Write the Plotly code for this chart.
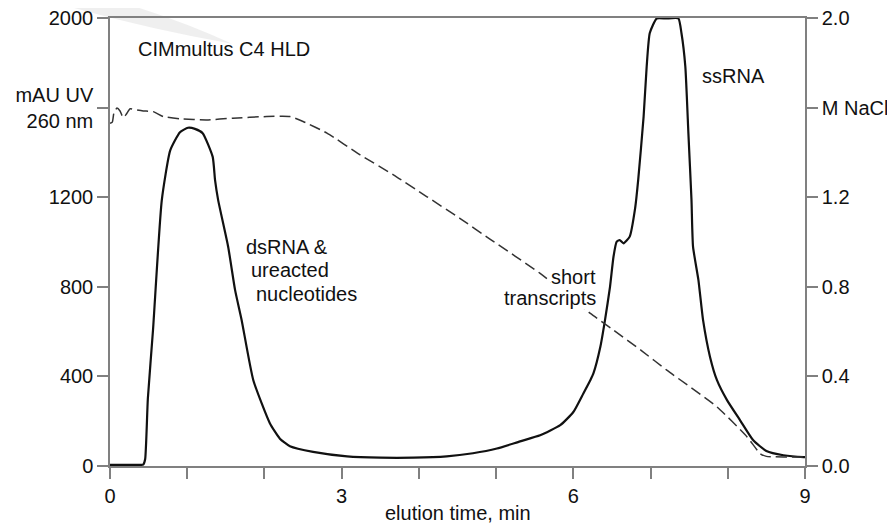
import plotly.graph_objects as go

# ---- data ----
uv_time = [0.0, 0.40, 0.43, 0.455, 0.49, 0.557, 0.67, 0.78, 0.906, 1.01, 1.10, 1.20, 1.33, 1.36, 1.40,
           1.53, 1.62, 1.705, 1.856, 2.07, 2.20, 2.33, 2.63, 3.07, 3.50, 3.93, 4.36, 4.70, 5.01,
           5.31, 5.57, 5.83, 6.00, 6.13, 6.22, 6.26, 6.35, 6.41, 6.475, 6.52, 6.56, 6.60, 6.65,
           6.73, 6.80, 6.84, 6.91, 6.95, 6.99, 7.08, 7.20, 7.36, 7.40, 7.45, 7.49, 7.53, 7.55,
           7.62, 7.68, 7.77, 7.86, 7.99, 8.16, 8.33, 8.50, 8.72, 8.98, 9.0]
uv_mau = [5, 5, 6, 30, 300, 607, 1185, 1409, 1490, 1510, 1505, 1486, 1380, 1277, 1188,
          979, 785, 651, 383, 191, 122, 88, 63, 43, 37, 37, 43, 57, 78,
          110, 137, 182, 241, 324, 383, 413, 532, 651, 800, 934, 1001, 1009, 994,
          1024, 1150, 1277, 1560, 1784, 1933, 1998, 1998, 1998, 1933, 1784, 1486, 1188, 979,
          830, 651, 487, 383, 294, 204, 115, 67, 48, 40, 40]

nacl_time = [0.0, 0.03, 0.05, 0.09, 0.13, 0.17, 0.21, 0.26, 0.33, 0.43, 0.56, 0.69, 0.91, 1.25,
             1.59, 2.03, 2.33, 2.50, 2.81, 3.24, 3.67, 4.10, 4.53, 4.92, 5.57, 6.22, 6.52,
             6.89, 7.21, 7.86, 8.25, 8.42, 8.50, 8.94, 9.0]
nacl_m = [1.53, 1.535, 1.575, 1.598, 1.585, 1.555, 1.57, 1.595, 1.59, 1.585, 1.582, 1.560, 1.550, 1.545,
          1.553, 1.560, 1.560, 1.538, 1.486, 1.389, 1.300, 1.203, 1.106, 1.013, 0.860, 0.681, 0.607,
          0.513, 0.428, 0.264, 0.130, 0.055, 0.043, 0.040, 0.040]

x_ticks = [0, 1, 2, 3, 4, 5, 6, 7, 8, 9]
x_ticktext = ["0", "", "", "3", "", "", "6", "", "", "9"]
y_ticks = [0, 400, 800, 1200, 1600, 2000]
y_ticktext = ["0", "400", "800", "1200", "mAU UV<br>260 nm", "2000"]
y2_ticks = [0.0, 0.4, 0.8, 1.2, 1.6, 2.0]
y2_ticktext = ["0.0", "0.4", "0.8", "1.2", "M NaCl", "2.0"]

FONT = "Liberation Sans, Arial, sans-serif"
FS = 20
AX = "#808080"
INK = "#111111"

fig = go.Figure()
fig.add_trace(go.Scatter(x=nacl_time, y=nacl_m, yaxis="y2", mode="lines",
                         line=dict(color="#333333", width=1.5, dash="11px,5px", shape="spline", smoothing=0.5),
                         showlegend=False, hoverinfo="skip"))
fig.add_trace(go.Scatter(x=uv_time, y=uv_mau, mode="lines",
                         line=dict(color=INK, width=2.2, shape="spline", smoothing=0.5),
                         showlegend=False, hoverinfo="skip"))

# page body has an 8px margin, so the figure sits at (8, 8) in the window
OFF = 8
W, H = 895 - OFF, 525 - OFF
# plot area in window pixels: x 110..805, y 18.3..465.7
L, R, T, B = 110, 805, 18.3, 465.7
def px(xp, yp):
    return (xp - L) / (R - L), (B - yp) / (B - T)

# faint grey swoosh (scan artefact at top-left)
pts = [(45, 0), (140, 28), (232, 44), (175, 18), (112, 0)]
p = [px(*q) for q in pts]
path = (f"M {p[0][0]},{p[0][1]} Q {p[1][0]},{p[1][1]} {p[2][0]},{p[2][1]} "
        f"Q {p[3][0]},{p[3][1]} {p[4][0]},{p[4][1]} Z")

common = dict(showline=True, linecolor=AX, linewidth=1.5, ticks="outside", ticklen=11,
              tickwidth=1.5, tickcolor=AX, showgrid=False, zeroline=False,
              automargin=False, ticklabeloverflow="allow",
              tickfont=dict(size=FS, color=INK), tickmode="array")

fig.update_layout(
    width=W, height=H,
    margin=dict(l=L - OFF, r=W - (R - OFF), t=T - OFF, b=H - (B - OFF), autoexpand=False),
    paper_bgcolor="white", plot_bgcolor="white",
    font=dict(family=FONT, size=FS, color=INK),
    shapes=[dict(type="path", xref="paper", yref="paper", path=path,
                 fillcolor="rgba(215,215,215,0.4)", line=dict(width=0), layer="below")],
    xaxis=dict(range=[0, 9], tickvals=x_ticks, ticktext=x_ticktext, mirror=True, **common),
    yaxis=dict(range=[0, 2000], tickvals=y_ticks, ticktext=y_ticktext, **common),
    yaxis2=dict(range=[0, 2.0], overlaying="y", side="right",
                tickvals=y2_ticks, ticktext=y2_ticktext, **common),
)

def ann(text, x, y, xanchor="left", bg=None, xref="x", yref="y"):
    d = dict(text=text, x=x, y=y, xref=xref, yref=yref, xanchor=xanchor, yanchor="middle",
             showarrow=False, font=dict(family=FONT, size=FS, color=INK))
    if bg:
        d["bgcolor"] = bg
        d["borderpad"] = 0
    fig.add_annotation(**d)

ann("CIMmultus C4 HLD", 0.337, 1863)
ann("ssRNA", 8.08, 1739, xanchor="center")
ann("dsRNA &amp;", 1.735, 978)
ann("ureacted", 1.794, 875)
ann("nucleotides", 1.871, 768)
ann("short", 6.307, 846, xanchor="right", bg="white")
ann("transcripts", 6.307, 748, xanchor="right", bg="white")
fig.add_annotation(text="elution time, min", x=0.5, y=0, xref="paper", yref="paper",
                   xanchor="center", yanchor="top", yshift=-34, showarrow=False,
                   font=dict(family=FONT, size=FS, color=INK))

fig.write_html("out.html")
